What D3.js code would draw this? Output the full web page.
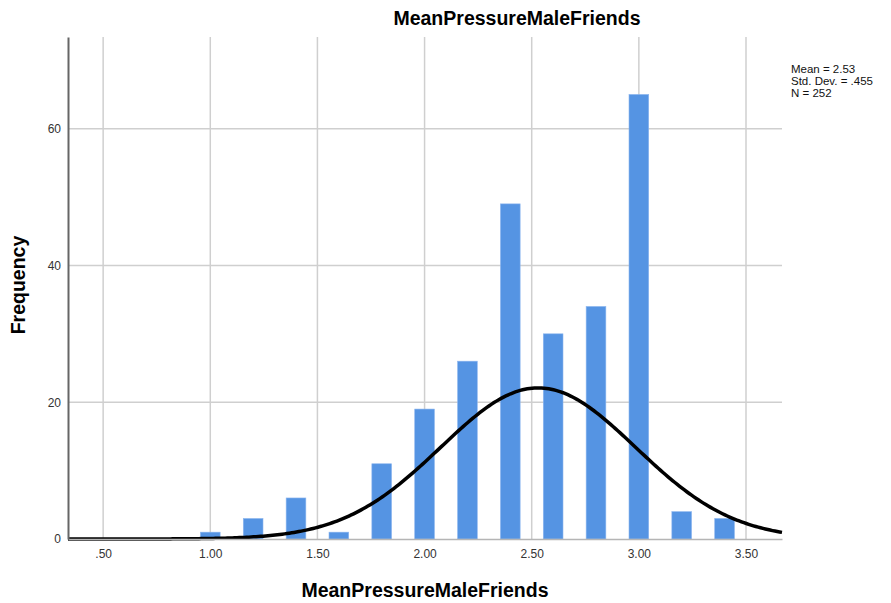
<!DOCTYPE html>
<html>
<head>
<meta charset="utf-8">
<script src="https://cdn.jsdelivr.net/npm/d3@7"></script>
<style>
  body { margin: 0; background: #fff; }
  text { font-family: Arial, "Liberation Sans", sans-serif; }
</style>
</head>
<body>
<div id="chart"></div>
<script>
// histogram bins (center value) and counts
var binCenters = [1.0, 1.2, 1.4, 1.6, 1.8, 2.0, 2.2, 2.4, 2.6, 2.8, 3.0, 3.2, 3.4];
var frequencies = [1, 3, 6, 1, 11, 19, 26, 49, 30, 34, 65, 4, 3];
var xTicks = [0.5, 1.0, 1.5, 2.0, 2.5, 3.0, 3.5];
var yTicks = [0, 20, 40, 60];
var mean = 2.53, sd = 0.455, n = 252, binWidth = 0.1;
var legendLines = ["Mean = 2.53", "Std. Dev. = .455", "N = 252"];

var margin = { top: 37, right: 109, bottom: 64, left: 68 };
var width = 891 - margin.left - margin.right,
    height = 603 - margin.top - margin.bottom;

var svg = d3.select("#chart").append("svg")
    .attr("width", 891)
    .attr("height", 603);

var g = svg.append("g")
    .attr("transform", "translate(" + margin.left + "," + margin.top + ")");

var x = d3.scaleLinear()
    .domain([0.336, 3.668])
    .range([0, width]);

var y = d3.scaleLinear()
    .domain([0, 73.4])
    .range([height, 0]);

// grid lines
g.append("g")
    .selectAll("line")
    .data(xTicks)
    .enter()
    .append("line")
    .attr("x1", d => x(d)).attr("x2", d => x(d))
    .attr("y1", 0).attr("y2", height)
    .attr("stroke", "#cfcfcf")
    .attr("stroke-width", 1.5);

g.append("g")
    .selectAll("line")
    .data(yTicks.slice(1))
    .enter()
    .append("line")
    .attr("x1", 0).attr("x2", width)
    .attr("y1", d => y(d)).attr("y2", d => y(d))
    .attr("stroke", "#cfcfcf")
    .attr("stroke-width", 1.5);

// bars
g.selectAll("rect")
    .data(binCenters)
    .enter()
    .append("rect")
    .attr("x", d => x(d - 0.046))
    .attr("width", x(0.092) - x(0))
    .attr("y", (d, i) => y(frequencies[i]))
    .attr("height", (d, i) => height - y(frequencies[i]))
    .attr("fill", "#5594e3")
    .attr("stroke", "#8db6ef")
    .attr("stroke-width", 0.6);

// normal curve
var curvePts = d3.range(0, 301).map(i => {
    var v = x.domain()[0] + (x.domain()[1] - x.domain()[0]) * i / 300;
    var pdf = Math.exp(-0.5 * Math.pow((v - mean) / sd, 2)) / (sd * Math.sqrt(2 * Math.PI));
    return [v, n * binWidth * pdf];
});

g.append("path")
    .datum(curvePts)
    .attr("fill", "none")
    .attr("stroke", "#000")
    .attr("stroke-width", 3.5)
    .attr("d", d3.line().x(d => x(d[0])).y(d => y(d[1])));

// axes
var xAxis = d3.axisBottom(x)
    .tickValues(xTicks)
    .tickSize(0)
    .tickPadding(10)
    .tickFormat(d => d3.format(".2f")(d).replace(/^0/, ""));

g.append("g")
    .attr("class", "x-axis axis")
    .attr("transform", "translate(0," + height + ")")
    .call(xAxis)
    .call(a => a.select(".domain").attr("stroke", "#b5b5b5").attr("stroke-width", 1.5))
    .attr("font-size", "12px")
    .selectAll("text").attr("fill", "#333");

var yAxis = d3.axisLeft(y)
    .tickValues(yTicks)
    .tickSize(0)
    .tickPadding(7);

g.append("g")
    .attr("class", "y-axis axis")
    .call(yAxis)
    .call(a => a.select(".domain").attr("stroke", "#666").attr("stroke-width", 2))
    .attr("font-size", "12px")
    .selectAll("text").attr("fill", "#333");

// titles
svg.append("text")
    .attr("x", 517)
    .attr("y", 25)
    .attr("text-anchor", "middle")
    .attr("font-size", "19.5px")
    .attr("font-weight", "bold")
    .text("MeanPressureMaleFriends");

svg.append("text")
    .attr("x", margin.left + width / 2)
    .attr("y", 597)
    .attr("text-anchor", "middle")
    .attr("font-size", "19.5px")
    .attr("font-weight", "bold")
    .text("MeanPressureMaleFriends");

svg.append("text")
    .attr("transform", "translate(25," + (margin.top + height / 2 - 3) + ") rotate(-90)")
    .attr("text-anchor", "middle")
    .attr("font-size", "19.5px")
    .attr("font-weight", "bold")
    .text("Frequency");

// stats box
svg.append("g")
    .selectAll("text")
    .data(legendLines)
    .enter()
    .append("text")
    .attr("x", 791)
    .attr("y", (d, i) => 73 + i * 12)
    .attr("font-size", "11.5px")
    .attr("fill", "#111")
    .text(d => d);
</script>
</body>
</html>
